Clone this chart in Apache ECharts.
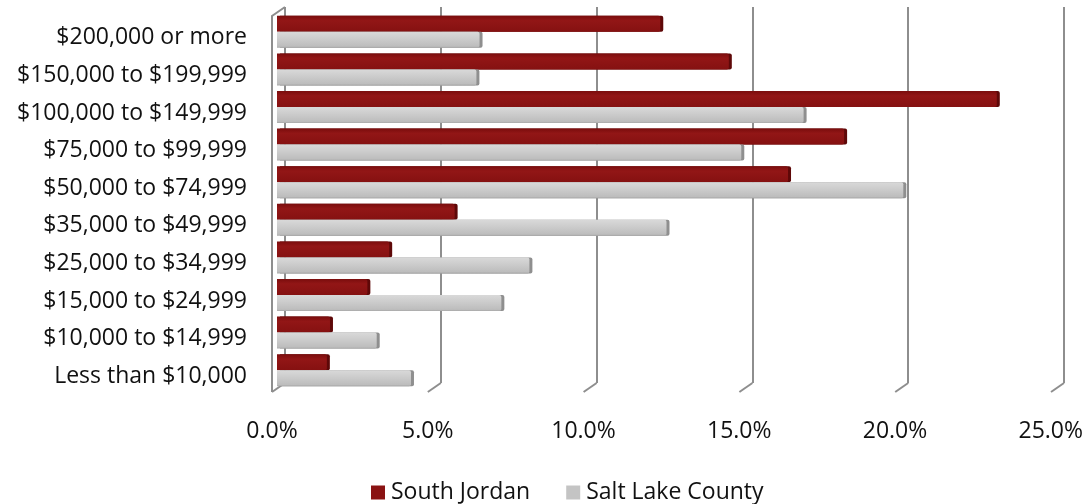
<!DOCTYPE html>
<html>
<head>
<meta charset="utf-8">
<script src="https://cdn.jsdelivr.net/npm/echarts@6/dist/echarts.min.js"></script>
<style>
html,body{margin:0;padding:0;background:#fff;}
#chart{width:1086px;height:504px;}
</style>
</head>
<body>
<div id="chart"></div>
<script>
const categories = ['$200,000 or more', '$150,000 to $199,999', '$100,000 to $149,999', '$75,000 to $99,999', '$50,000 to $74,999', '$35,000 to $49,999', '$25,000 to $34,999', '$15,000 to $24,999', '$10,000 to $14,999', 'Less than $10,000'];
const southJordan = [12.3, 14.5, 23.1, 18.2, 16.4, 5.7, 3.6, 2.9, 1.7, 1.6];
const saltLakeCounty = [6.5, 6.4, 16.9, 14.9, 20.1, 12.5, 8.1, 7.2, 3.2, 4.3];
const tickValues = [0, 5, 10, 15, 20, 25];

const FONT = 'Open Sans';
const FS = 23;
const GRID_LINE = '#8e8e8e';
const DX = -13, DY = 9;

const chart = echarts.init(document.getElementById('chart'), null, {renderer: 'canvas'});
chart.setOption({
  animation: false,
  backgroundColor: '#fff',
  textStyle: {fontFamily: FONT},
  legend: {
    data: [
      {name: 'South Jordan', itemStyle: {color: '#8a1313', borderWidth: 0, shadowOffsetX: 0}},
      {name: 'Salt Lake County', itemStyle: {color: '#c4c4c4', borderWidth: 0, shadowOffsetX: 0}}
    ],
    left: 366, top: 476,
    itemWidth: 14, itemHeight: 14, itemGap: 36,
    icon: 'rect',
    textStyle: {fontFamily: FONT, fontSize: FS, color: '#111', padding: [0,0,0,1]}
  },
  grid: [
    {left: 277, width: 779, top: 13, height: 376},
    {left: 285, width: 779, top: 7, height: 376},
    {left: 272, width: 779, top: 19, height: 376}
  ],
  xAxis: [
    {gridIndex: 0, type: 'value', min: 0, max: 25, interval: 5, show: false},
    {gridIndex: 1, type: 'value', min: 0, max: 25, interval: 5,
     axisLine: {show: false}, axisTick: {show: false}, axisLabel: {show: false},
     splitLine: {show: true, lineStyle: {color: GRID_LINE, width: 2}}},
    {gridIndex: 2, type: 'value', min: 0, max: 25, interval: 5,
     axisLine: {show: false}, axisTick: {show: false}, splitLine: {show: false},
     axisLabel: {margin: 25, fontSize: FS, color: '#111', fontFamily: FONT,
       formatter: v => v.toFixed(1) + '%'}}
  ],
  yAxis: [
    {gridIndex: 0, type: 'category', data: categories, inverse: true, show: false},
    {gridIndex: 1, type: 'value', min: 0, max: 1, show: false},
    {gridIndex: 2, type: 'category', data: categories, inverse: true,
     axisLine: {show: false}, axisTick: {show: false}, splitLine: {show: false},
     axisLabel: {margin: 25, fontSize: FS, color: '#111', fontFamily: FONT}}
  ],
  series: [
    {
      name: 'South Jordan', type: 'bar', xAxisIndex: 0, yAxisIndex: 0,
      data: southJordan, barWidth: 16, barGap: '0%',
      itemStyle: {
        color: new echarts.graphic.LinearGradient(0, 0, 0, 1, [
          {offset: 0, color: '#7a0d0d'}, {offset: 0.3, color: '#921616'},
          {offset: 1, color: '#851111'}
        ]),
        borderRadius: [0, 2, 2, 0],
        shadowColor: '#5e0808', shadowOffsetX: 3, shadowOffsetY: 0, shadowBlur: 0
      }
    },
    {
      name: 'Salt Lake County', type: 'bar', xAxisIndex: 0, yAxisIndex: 0,
      data: saltLakeCounty, barWidth: 16, barGap: '0%',
      itemStyle: {
        color: new echarts.graphic.LinearGradient(0, 0, 0, 1, [
          {offset: 0, color: '#d9d9d9'}, {offset: 0.4, color: '#cdcdcd'},
          {offset: 0.9, color: '#bdbdbd'}, {offset: 1, color: '#a8a8a8'}
        ]),
        borderRadius: [0, 2, 2, 0],
        shadowColor: '#8f8f8f', shadowOffsetX: 3, shadowOffsetY: 0, shadowBlur: 0
      }
    },
    {
      type: 'custom', xAxisIndex: 1, yAxisIndex: 1, silent: true, z: 1,
      data: tickValues,
      renderItem: function (params, api) {
        const v = api.value(0);
        const b = api.coord([v, 0]);
        const t = api.coord([v, 1]);
        const style = {stroke: GRID_LINE, lineWidth: 2, fill: null};
        const children = [{
          type: 'polyline', shape: {points: [[b[0], b[1]], [b[0] + DX, b[1] + DY]]}, style: style
        }];
        if (v === 0) {
          children.push({
            type: 'polyline',
            shape: {points: [[t[0], t[1]], [t[0] + DX, t[1] + DY], [b[0] + DX, b[1] + DY]]},
            style: style
          });
        }
        return {type: 'group', children: children};
      }
    }
  ]
});
</script>
</body>
</html>
